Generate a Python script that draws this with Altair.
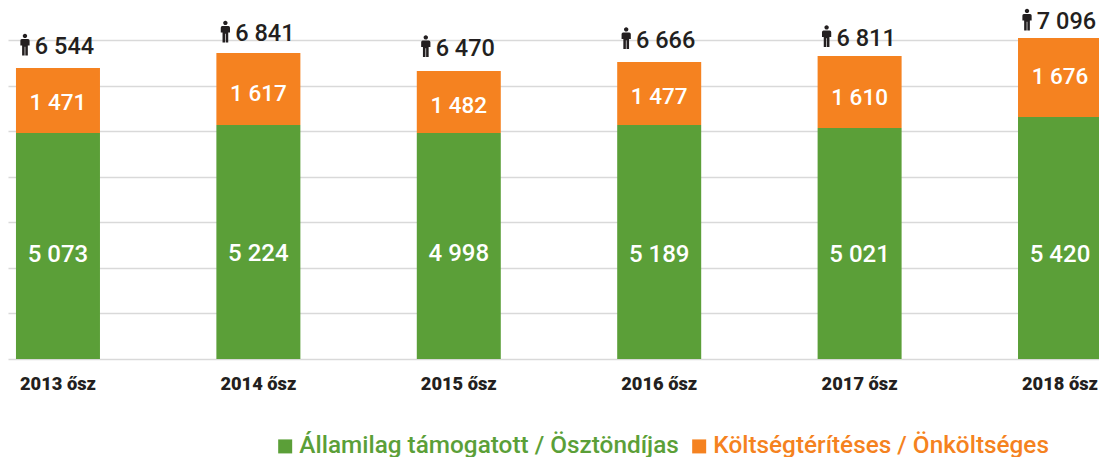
import altair as alt
import pandas as pd

years = ["2013 ősz", "2014 ősz", "2015 ősz", "2016 ősz", "2017 ősz", "2018 ősz"]
series = ["Államilag támogatott / Ösztöndíjas", "Költségtérítéses / Önköltséges"]

# printed numbers
green_labels = ["5 073", "5 224", "4 998", "5 189", "5 021", "5 420"]
orange_labels = ["1 471", "1 617", "1 482", "1 477", "1 610", "1 676"]
total_labels = ["6 544", "6 841", "6 470", "6 666", "6 811", "7 096"]

# bar lengths as read against the gridlines of the picture
green_len = [4967, 5143, 4967, 5143, 5077, 5319]
orange_len = [1429, 1582, 1363, 1385, 1582, 1736]

# where the printed numbers sit, read against the same gridlines
green_at = [2308, 2319, 2319, 2308, 2308, 2308]
orange_at = [5659, 5835, 5582, 5780, 5769, 6209]
total_at = [6868, 7154, 6835, 7011, 7055, 7418]

grid_values = [0, 1000, 2000, 3000, 4000, 5000, 6000, 7000]

GREEN = "#5B9F38"
ORANGE = "#F58220"
DARK = "#231F20"
GRID = "#D9D9D9"
FONT = "Roboto"

PERSON = ("M-0.2,-0.78a0.2,0.2 0 1,0 0.4,0a0.2,0.2 0 1,0 -0.4,0Z"
          "M-0.28,-0.5L0.28,-0.5Q0.42,-0.5 0.42,-0.35L0.42,0.1L0.26,0.1L0.26,1"
          "L0.03,1L0.03,0.2L-0.03,0.2L-0.03,1L-0.26,1L-0.26,0.1L-0.42,0.1"
          "L-0.42,-0.35Q-0.42,-0.5 -0.28,-0.5Z")

bars = pd.DataFrame({
    "year": years * 2,
    "series": [series[0]] * 6 + [series[1]] * 6,
    "len": green_len + orange_len,
    "rank": [0] * 6 + [1] * 6,
})
labels = pd.DataFrame({
    "year": years, "green": green_labels, "orange": orange_labels, "total": total_labels,
    "green_at": green_at, "orange_at": orange_at, "total_at": total_at,
})

x = alt.X("year:N", title=None, sort=years,
          scale=alt.Scale(paddingInner=0.581, paddingOuter=0.0324, align=0.615, round=False,
                          range=[0, 1099]),
          axis=alt.Axis(labelAngle=0, domain=False, ticks=False, labelPadding=16,
                        labelFont=FONT, labelFontSize=18.3, labelFontWeight=900,
                        labelColor=DARK))
yscale = alt.Scale(domain=[0, 7714], nice=False, zero=False)

bar_layer = alt.Chart(bars).mark_bar(size=84).encode(
    x=x,
    y=alt.Y("len:Q", stack="zero", title=None, scale=yscale,
            axis=alt.Axis(values=grid_values, labels=False, ticks=False, domain=False,
                          grid=True, gridColor=GRID, gridWidth=1.5)),
    color=alt.Color("series:N", sort=series, title=None,
                    scale=alt.Scale(domain=series, range=[GREEN, ORANGE]),
                    legend=alt.Legend(
                        orient="none", legendX=265, legendY=426, columns=2,
                        symbolType="square", symbolSize=196, symbolStrokeWidth=0,
                        symbolOpacity=1, columnPadding=8, labelLimit=500,
                        labelFont=FONT, labelFontSize=24.35, labelFontWeight=500,
                        labelOffset=2,
                        labelColor=alt.ExprRef(f"datum.value == '{series[0]}' ? '{GREEN}' : '{ORANGE}'"),
                    )),
    order=alt.Order("rank:Q"),
)


def text_layer(field, at, color, size, dx=0):
    return alt.Chart(labels).mark_text(
        font=FONT, fontSize=size, fontWeight=500, color=color, baseline="middle",
        dx=dx, dy=1, align="center",
    ).encode(
        x=alt.X("year:N", sort=years, title=None),
        y=alt.Y(f"{at}:Q", scale=yscale),
        text=f"{field}:N",
    )


green_text = text_layer("green", "green_at", "white", 24)
orange_text = text_layer("orange", "orange_at", "white", 22.5)
total_text = text_layer("total", "total_at", DARK, 23.5, dx=6.5)

icons = alt.Chart(labels).mark_point(
    shape=PERSON, size=484, filled=True, color=DARK, opacity=1, xOffset=-33, yOffset=-2,
).encode(
    x=alt.X("year:N", sort=years, title=None),
    y=alt.Y("total_at:Q", scale=yscale),
)

chart = alt.layer(bar_layer, green_text, orange_text, total_text, icons).properties(
    width=1091, height=351,
    autosize=alt.AutoSizeParams(type="none"),
    padding={"left": 0, "top": 0, "right": 0, "bottom": 98},
    background="white",
).configure_view(stroke=None)

chart.save("out.html", embed_options={"renderer": "svg", "actions": False})
